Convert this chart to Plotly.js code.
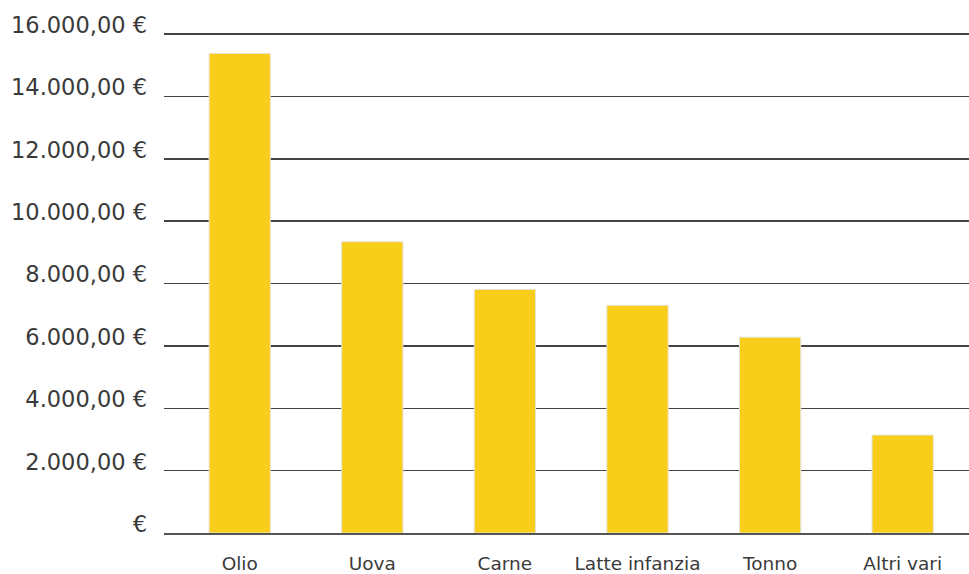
<!DOCTYPE html>
<html>
<head>
<meta charset="utf-8">
<script src="https://cdn.plot.ly/plotly-3.0.1.min.js"></script>
<style>html,body{margin:0;padding:0;background:#fff;}#chart{width:969px;height:574px;}</style>
</head>
<body>
<div id="chart"></div>
<script>
const categories = ["Olio", "Uova", "Carne", "Latte infanzia", "Tonno", "Altri vari"];
const values = [15380, 9340, 7810, 7300, 6280, 3140];
const tickValues = [0, 2000, 4000, 6000, 8000, 10000, 12000, 14000, 16000];
const tickLabels = ["€", "2.000,00 €", "4.000,00 €", "6.000,00 €", "8.000,00 €", "10.000,00 €", "12.000,00 €", "14.000,00 €", "16.000,00 €"];

const trace = {
  type: "bar",
  x: categories,
  y: values,
  marker: { color: "#F9CE1A", line: { color: "#e6e2d4", width: 1 } },
  hoverinfo: "x+y"
};

const layout = {
  width: 969, height: 574,
  margin: { l: 164, r: 0, t: 33, b: 41, pad: 0 },
  paper_bgcolor: "#fff", plot_bgcolor: "#fff",
  bargap: 0.538,
  showlegend: false,
  font: { family: "DejaVu Sans, sans-serif", color: "#3a3a3a" },
  xaxis: {
    type: "category",
    range: [-0.571, 5.5],
    showgrid: false,
    zeroline: false,
    showline: true,
    linecolor: "#555",
    linewidth: 2,
    ticks: "",
    ticklabelstandoff: 13,
    tickfont: { size: 18.5, color: "#3a3a3a" },
    fixedrange: true
  },
  yaxis: {
    range: [0, 16035],
    tickvals: tickValues,
    ticktext: tickLabels,
    ticklabelshift: -9,
    ticklabelstandoff: 16,
    showgrid: true,
    gridcolor: "#444",
    gridwidth: 1.5,
    zeroline: false,
    showline: false,
    ticks: "",
    tickfont: { size: 22.5, color: "#3a3a3a" },
    fixedrange: true
  }
};

Plotly.newPlot("chart", [trace], layout, { displayModeBar: false, staticPlot: true });
</script>
</body>
</html>
